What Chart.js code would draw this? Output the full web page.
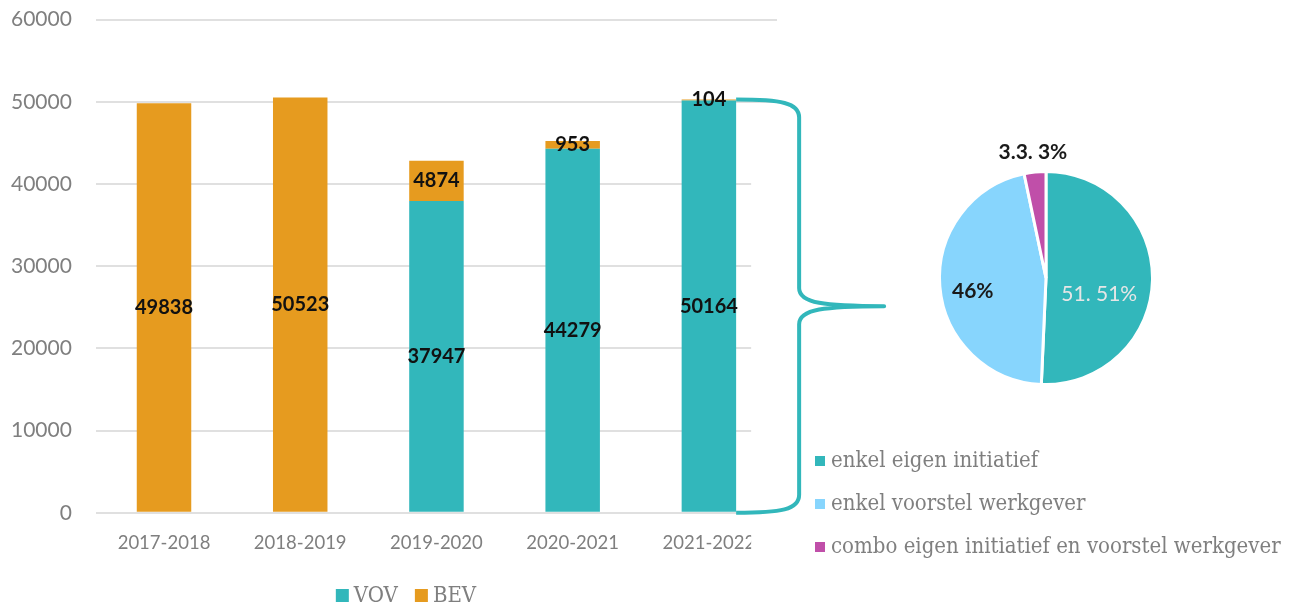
<!DOCTYPE html>
<html>
<head>
<meta charset="utf-8">
<script src="https://cdn.jsdelivr.net/npm/chart.js@4"></script>
<style>
  html, body { margin: 0; padding: 0; background: #fff; }
  #wrap { position: relative; width: 1293px; height: 603px; overflow: hidden; }
  #barBox { position: absolute; left: -23px; top: -17px; width: 923px; height: 632px; }
  #pieBox { position: absolute; left: 800px; top: 0; width: 493px; height: 603px; }
</style>
</head>
<body>
<div id="wrap">
  <div id="barBox"><canvas id="bar"></canvas></div>
  <div id="pieBox"><canvas id="pie"></canvas></div>
</div>
<script>
// bar chart data
const years = ['2017-2018', '2018-2019', '2019-2020', '2020-2021', '2021-2022'];
const vov = [0, 0, 37947, 44279, 50164];
const bev = [49838, 50523, 4874, 953, 104];

// pie chart data
const pieLabels = ['enkel eigen initiatief', 'enkel voorstel werkgever', 'combo eigen initiatief en voorstel werkgever'];
const pieValues = [50.7, 46, 3.3];
const pieTexts = ['51. 51%', '46%', '3.3. 3%'];

const TEAL = '#32b7bb';
const ORANGE = '#e69b1f';
const LIGHTBLUE = '#87d5fd';
const MAGENTA = '#c04fa9';
const GREY = '#7f7f7f';
const SERIF = '"DejaVu Serif Condensed", "DejaVu Serif"';

// value labels in the middle of each bar segment
const barLabels = {
  id: 'barLabels',
  afterDatasetsDraw(chart) {
    const ctx = chart.ctx;
    ctx.save();
    ctx.font = 'bold 20px Lato';
    ctx.fillStyle = '#111';
    ctx.textAlign = 'center';
    ctx.textBaseline = 'middle';
    chart.data.datasets.forEach((ds, i) => {
      chart.getDatasetMeta(i).data.forEach((el, j) => {
        if (!ds.data[j]) return;
        ctx.fillText(ds.data[j], el.x, (el.y + el.base) / 2);
      });
    });
    ctx.restore();
  }
};

// the curly brace from the last bar to the pie, plus the series legend
const brace = {
  id: 'brace',
  afterDraw(chart, args, opts) {
    const ctx = chart.ctx;
    const last = years.length - 1;
    const topEl = chart.getDatasetMeta(1).data[last];
    const x0 = topEl.x + topEl.width / 2;
    const yTop = topEl.y;
    const yBot = chart.scales.y.getPixelForValue(0);
    const xv = x0 + 63;
    const tipX = x0 + 148;
    const yMid = (yTop + yBot) / 2;

    ctx.save();
    // the pie picture covers the end of the plot area
    ctx.fillStyle = '#fff';
    ctx.fillRect(x0 + 15, yTop + 7, chart.width - x0, chart.height - yTop);

    ctx.strokeStyle = TEAL;
    ctx.lineWidth = 4;
    ctx.lineJoin = 'round';
    ctx.beginPath();
    ctx.moveTo(x0, yTop);
    ctx.bezierCurveTo(x0 + 45, yTop, xv, yTop + 3, xv, yTop + 18);
    ctx.lineTo(xv, yMid - 18);
    ctx.bezierCurveTo(xv, yMid - 3, tipX - 60, yMid, tipX, yMid);
    ctx.bezierCurveTo(tipX - 60, yMid, xv, yMid + 3, xv, yMid + 18);
    ctx.lineTo(xv, yBot - 18);
    ctx.bezierCurveTo(xv, yBot - 3, x0 + 45, yBot, x0, yBot);
    ctx.stroke();

    // legend: square + name per dataset, centred on opts.centerX
    ctx.font = '22px ' + SERIF;
    ctx.textBaseline = 'middle';
    ctx.textAlign = 'left';
    const items = chart.data.datasets.map(ds => ({ ds, w: 13 + 5 + ctx.measureText(ds.label).width }));
    const total = items.reduce((s, it) => s + it.w, 0) + opts.gap * (items.length - 1);
    let x = opts.centerX - total / 2;
    items.forEach(it => {
      ctx.fillStyle = it.ds.backgroundColor;
      ctx.fillRect(x, opts.y - 6, 13, 13);
      ctx.fillStyle = GREY;
      ctx.fillText(it.ds.label, x + 18, opts.y + 1);
      x += it.w + opts.gap;
    });
    ctx.restore();
  }
};

new Chart(document.getElementById('bar'), {
  type: 'bar',
  data: {
    labels: years,
    datasets: [
      { label: 'VOV', data: vov, backgroundColor: TEAL, barPercentage: 0.4, categoryPercentage: 1 },
      { label: 'BEV', data: bev, backgroundColor: ORANGE, barPercentage: 0.4, categoryPercentage: 1 }
    ]
  },
  options: {
    responsive: true,
    maintainAspectRatio: false,
    animation: false,
    layout: { padding: { left: 10, right: 123, top: 2, bottom: 50 } },
    scales: {
      x: {
        stacked: true,
        grid: { display: false },
        border: { display: false },
        ticks: { color: GREY, font: { family: 'Lato', size: 18.5 }, padding: 11, maxRotation: 0 }
      },
      y: {
        stacked: true,
        min: 0,
        max: 60000,
        grid: { color: '#e0e0e0', lineWidth: 2, drawTicks: false },
        border: { display: false },
        ticks: {
          stepSize: 10000,
          color: GREY,
          font: { family: 'Lato', size: 21 },
          padding: 24,
          callback: v => String(v)
        }
      }
    },
    plugins: {
      legend: { display: false },
      tooltip: { enabled: false },
      brace: { centerX: 429, y: 612, gap: 17 }
    }
  },
  plugins: [barLabels, brace]
});

// slice labels and the vertical legend of the pie
const pieDecor = {
  id: 'pieDecor',
  afterDraw(chart, args, opts) {
    const ctx = chart.ctx;
    const ds = chart.data.datasets[0];
    ctx.save();
    ctx.textAlign = 'center';
    ctx.textBaseline = 'middle';
    chart.getDatasetMeta(0).data.forEach((arc, i) => {
      const mid = (arc.startAngle + arc.endAngle) / 2;
      const r = arc.outerRadius * opts.radial[i];
      ctx.font = opts.weights[i] + ' 21px Lato';
      ctx.fillStyle = opts.colors[i];
      ctx.fillText(pieTexts[i], arc.x + Math.cos(mid) * r, arc.y + Math.sin(mid) * r + opts.shift[i]);
    });

    ctx.textAlign = 'left';
    ctx.font = '22px ' + SERIF;
    chart.data.labels.forEach((lab, i) => {
      const y = opts.legendTop + i * opts.legendGap;
      ctx.fillStyle = ds.backgroundColor[i];
      ctx.fillRect(opts.legendX, y - 5, 10, 10);
      ctx.fillStyle = GREY;
      ctx.fillText(lab, opts.legendX + 16, y);
    });
    ctx.restore();
  }
};

new Chart(document.getElementById('pie'), {
  type: 'pie',
  data: {
    labels: pieLabels,
    datasets: [{
      data: pieValues,
      backgroundColor: [TEAL, LIGHTBLUE, MAGENTA],
      borderColor: '#fff',
      borderWidth: 3
    }]
  },
  options: {
    responsive: true,
    maintainAspectRatio: false,
    animation: false,
    layout: { padding: { left: 138, right: 139, top: 170, bottom: 217 } },
    plugins: {
      legend: { display: false },
      tooltip: { enabled: false },
      pieDecor: {
        radial: [0.5, 0.69, 1.19],
        shift: [15, 7, 0],
        colors: ['#e6e6e6', '#1a1a1a', '#1a1a1a'],
        weights: ['normal', 'bold', 'bold'],
        legendX: 15,
        legendTop: 461,
        legendGap: 43
      }
    }
  },
  plugins: [pieDecor]
});
</script>
</body>
</html>
